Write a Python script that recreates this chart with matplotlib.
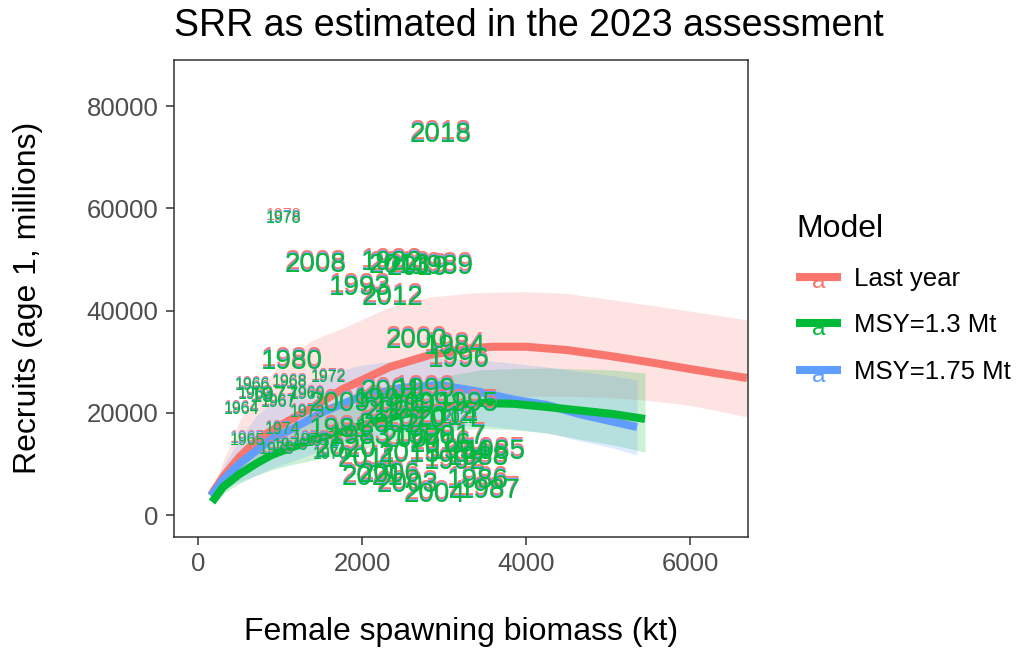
"""Stock-recruit relationship plot, 2023 assessment"""
import matplotlib as mpl
mpl.use('Agg')
import matplotlib.pyplot as plt
from matplotlib.lines import Line2D
from matplotlib.text import Text
from matplotlib.legend_handler import HandlerBase
from matplotlib.transforms import offset_copy

plt.rcParams['font.family'] = ['Liberation Sans', 'DejaVu Sans']

models = ['Last year', 'MSY=1.3 Mt', 'MSY=1.75 Mt']
colors = ['#F8766D', '#00BA38', '#619CFF']

# fitted curves (kt, millions)
ly_ssb = [159, 305, 512, 720, 900, 1085, 1366, 1768, 2341, 2829, 3354, 3600, 4000, 4500, 5000, 5500, 6000, 6350, 6695]
ly_rec = [3970, 7490, 11500, 14720, 16600, 18300, 20800, 24700, 29000, 31340, 32710, 32950, 32950, 32300, 31200, 29950, 28600, 27700, 26840]
ly_lo = [3380, 5900, 8850, 10800, 12400, 13500, 15300, 17650, 20200, 21950, 22700, 22950, 23250, 23300, 23000, 22450, 21500, 20400, 19220]
ly_hi = [4560, 10500, 18630, 24000, 27700, 30500, 34000, 36620, 40730, 42680, 43460, 43600, 43700, 43350, 42250, 41100, 39900, 39050, 38190]

m13_ssb = [171, 305, 500, 720, 900, 1122, 1524, 1939, 2463, 2951, 3439, 3850, 4256, 4650, 5061, 5451]
m13_rec = [2600, 5530, 8000, 10220, 11800, 13160, 15310, 17260, 19610, 21170, 21950, 21800, 21170, 20500, 19800, 18830]
m13_lo = [2010, 4200, 6200, 7880, 8900, 9830, 11200, 12770, 14720, 16290, 17000, 16700, 16090, 14900, 13740, 12370]
m13_hi = [3380, 7200, 10500, 13350, 15600, 17650, 20590, 22930, 25280, 27040, 28410, 28700, 28800, 28600, 28410, 27820]

m175_ssb = [159, 305, 500, 720, 900, 1122, 1524, 1939, 2463, 2951, 3439, 3850, 4256, 4650, 5061, 5354]
m175_rec = [3770, 6900, 10000, 12770, 14900, 16680, 20200, 22930, 24890, 25470, 24100, 22600, 21560, 19800, 18300, 17260]
m175_lo = [2990, 5000, 6600, 7880, 9200, 10420, 12770, 14720, 16290, 17070, 17650, 16900, 16090, 14600, 13160, 11790]
m175_hi = [4560, 9500, 14800, 19610, 22000, 24110, 27240, 29200, 30370, 30760, 30370, 29700, 29000, 28100, 27240, 26460]

# yearly estimates (SSB kt, recruits millions)
years = list(range(1963, 2023))
ssb = [695, 537, 598, 659, 976, 1122, 1341, 1610, 1524, 1585,
       1329, 1037, 963, 1122, 927, 1049, 1366, 1146, 1732, 2366,
       1976, 3134, 3622, 3415, 3561, 3415, 2988, 2524, 2890, 3134,
       1976, 3195, 3293, 3183, 2280, 2768, 2768, 2671, 2366, 2341,
       2561, 2890, 2402, 2341, 2610, 1439, 1732, 2646, 2073, 2366,
       2463, 3049, 2585, 2951, 3134, 2963, 2683, 1793, 2122, 3195]
rec = [23520, 20590, 14720, 25280, 21960, 25870, 23520, 11790, 14330, 26840,
       20000, 16680, 12770, 13550, 23130, 57970, 14720, 29970, 16680, 49320,
       15310, 32900, 12380, 6710, 4760, 11200, 48540, 21560, 21760, 10420,
       44440, 12380, 21760, 30360, 22540, 15310, 24500, 34080, 24110, 17650,
       5920, 3970, 20200, 7880, 14720, 48930, 21760, 18630, 10810, 42490,
       48730, 19020, 11790, 13740, 15310, 74350, 48350, 12770, 7290, 19020]
small_years = [1963, 1964, 1965, 1966, 1967, 1968, 1969, 1970, 1971, 1972,
               1973, 1974, 1975, 1976, 1978, 1979, 2022]
mid_years = [1977]


class KeyHandler(HandlerBase):
    def create_artists(self, legend, orig_handle, xdescent, ydescent,
                       width, height, fontsize, trans):
        y = height / 2 - ydescent
        col = orig_handle.get_color()
        txt = Text(width / 2 - xdescent, y - 4, 'a', color=col, ha='center',
                   va='center', fontsize=fontsize * 0.95)
        line = Line2D([-xdescent, width - xdescent], [y, y], color=col, lw=5.8,
                      solid_capstyle='butt')
        txt.set_transform(trans)
        line.set_transform(trans)
        return [txt, line]


fig = plt.figure(figsize=(10.26, 6.51), dpi=100)
ax = fig.add_axes([174 / 1026, 1 - 537 / 651, (748 - 174) / 1026, (537 - 60) / 651])

curves = [(ly_ssb, ly_rec, ly_lo, ly_hi),
          (m13_ssb, m13_rec, m13_lo, m13_hi),
          (m175_ssb, m175_rec, m175_lo, m175_hi)]

for (xs, ys, lo, hi), col in zip(curves, colors):
    ax.fill_between(xs, lo, hi, color=col, alpha=0.2, lw=0)

for i in [0, 2, 1]:
    xs, ys, lo, hi = curves[i]
    ax.plot(xs, ys, color=colors[i], lw=5.8, solid_capstyle='butt', solid_joinstyle='round')

# year labels, one set per model
shifts = {0: 2.0, 2: 0.8, 1: 0.0}
for i in [0, 2, 1]:
    tr = offset_copy(ax.transData, fig=fig, y=shifts[i], units='points')
    for yr, sx, rx in zip(years, ssb, rec):
        if yr in small_years:
            fs = 11.5
        elif yr in mid_years:
            fs = 16
        else:
            fs = 20
        ax.text(sx, rx, str(yr), color=colors[i], fontsize=fs, ha='center',
                va='center', transform=tr)

ax.set_xlim(-293, 6707)
ax.set_ylim(-4240, 89000)
ax.set_xticks([0, 2000, 4000, 6000])
ax.set_yticks([0, 20000, 40000, 60000, 80000])
ax.tick_params(labelsize=18.5, colors='#333333', labelcolor='#4D4D4D',
               length=6, width=1.1, pad=5)
for sp in ax.spines.values():
    sp.set_color('#333333')
    sp.set_linewidth(1.1)

fig.text(174 / 1026, 1 - 26 / 651, 'SRR as estimated in the 2023 assessment',
         fontsize=27, ha='left', va='center')
fig.text(461 / 1026, 1 - 632 / 651, 'Female spawning biomass (kt)',
         fontsize=23, ha='center', va='center')
fig.text(28 / 1026, 1 - 298 / 651, 'Recruits (age 1, millions)',
         fontsize=23, ha='center', va='center', rotation=90)

handles = [Line2D([], [], color=c) for c in colors]
leg = fig.legend(handles, models, title='Model', loc='upper left',
                 bbox_to_anchor=(773 / 1026, 1 - 191 / 651), frameon=False,
                 fontsize=18.5, title_fontsize=23, handlelength=1.75,
                 handletextpad=0.5, labelspacing=0.88, alignment='left',
                 handler_map={Line2D: KeyHandler()})

fig.savefig('out.png', dpi=100, facecolor='white')
